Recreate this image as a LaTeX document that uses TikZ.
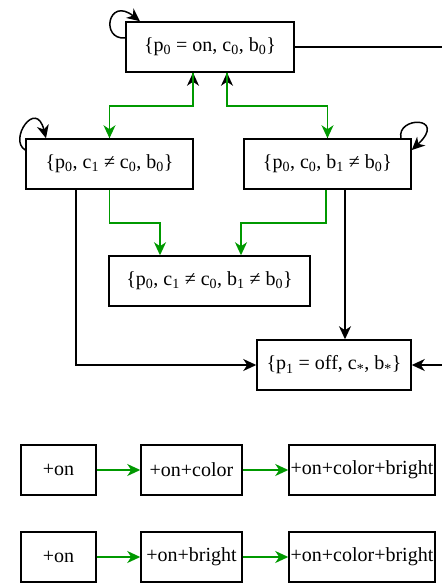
\documentclass[tikz,border=0pt]{standalone}
\usepackage{fontspec}
\setmainfont{Liberation Serif}
\usetikzlibrary{arrows.meta}
\definecolor{gline}{HTML}{009900}
\newcommand{\sbs}[1]{\textsubscript{#1}}
\tikzset{
  box/.style={draw=black, line width=1.5pt, fill=white, inner sep=0pt, align=center,
    font=\fontsize{20}{24}\selectfont},
  barrow/.style={draw=black, line width=1.5pt, -{Stealth[length=13pt,width=12pt,inset=4pt]}},
  garrow/.style={draw=gline, line width=1.6pt, -{Stealth[length=13pt,width=12pt,inset=4pt]}},
  bline/.style={draw=black, line width=1.5pt}
}
\begin{document}
\begin{tikzpicture}[x=1pt,y=-1pt]
\useasboundingbox (0,0) rectangle (442,584);
% state nodes
\node[box, minimum width=168pt, minimum height=50pt] (top) at (210,47) {\{p\sbs{0} = on, c\sbs{0}, b\sbs{0}\}};
\node[box, minimum width=167pt, minimum height=50pt] (left) at (109.5,164) {\{p\sbs{0}, c\sbs{1} ≠ c\sbs{0}, b\sbs{0}\}};
\node[box, minimum width=167pt, minimum height=50pt] (right) at (327.5,164) {\{p\sbs{0}, c\sbs{0}, b\sbs{1} ≠ b\sbs{0}\}};
\node[box, minimum width=201pt, minimum height=50pt] (mid) at (209.5,281) {\{p\sbs{0}, c\sbs{1} ≠ c\sbs{0}, b\sbs{1} ≠ b\sbs{0}\}};
\node[box, minimum width=154pt, minimum height=50pt] (p1) at (334,365) {\{p\sbs{1} = off, c\sbs{*}, b\sbs{*}\}};
% bottom rows
\node[box, minimum width=75pt, minimum height=50pt] (a1) at (58.5,470) {+on};
\node[box, minimum width=101pt, minimum height=50pt] (a2) at (191.5,470) {+on+color};
\node[box, minimum width=146pt, minimum height=50pt] (a3) at (362,470) {+on+color+bright};
\node[box, minimum width=75pt, minimum height=50pt] (b1) at (58.5,557) {+on};
\node[box, minimum width=101pt, minimum height=50pt] (b2) at (191.5,557) {+on+bright};
\node[box, minimum width=146pt, minimum height=50pt] (b3) at (362,557) {+on+color+bright};
% off-canvas connector ends
\coordinate (outA) at (442,47);
\coordinate (outB) at (442,365);
% top <-> left / right (black back edges under green)
\draw[barrow] (left.north) |- ([xshift=-17pt,yshift=-33pt]top.south) -- ([xshift=-17pt]top.south);
\draw[barrow] (right.north) |- ([xshift=17pt,yshift=-33pt]top.south) -- ([xshift=17pt]top.south);
\draw[garrow] ([xshift=-17pt]top.south) -- ++(0,33) -| (left.north);
\draw[garrow] ([xshift=17pt]top.south) -- ++(0,33) -| (right.north);
% to middle
\draw[garrow] (left.south) -- ++(0,33) -| ([xshift=-49.5pt]mid.north);
\draw[garrow] ([xshift=-1.5pt]right.south) -- ++(0,33) -| ([xshift=31.5pt]mid.north);
% to p1
\draw[barrow] ([xshift=-33.5pt]left.south) |- (p1.west);
\draw[barrow] ([xshift=17.5pt]right.south) -- ([xshift=17.5pt]right.south |- p1.north);
\draw[bline] (top.east) -- (outA);
\draw[barrow] (outB) -- (p1.east);
% self loops
\draw[barrow] ([yshift=9pt]top.west) .. controls (100,40) and (108,-4) .. ([xshift=-70pt]top.north);
\draw[barrow] ([yshift=14pt]left.west) .. controls (8,140) and (36,98) .. ([xshift=-63.5pt]left.north);
\draw[barrow] ([xshift=73.5pt]right.north) .. controls (396,116) and (448,116) .. ([yshift=14pt]right.east);
% bottom chains
\draw[garrow] (a1) -- (a2);
\draw[garrow] (a2) -- (a3);
\draw[garrow] (b1) -- (b2);
\draw[garrow] (b2) -- (b3);
\end{tikzpicture}
\end{document}
